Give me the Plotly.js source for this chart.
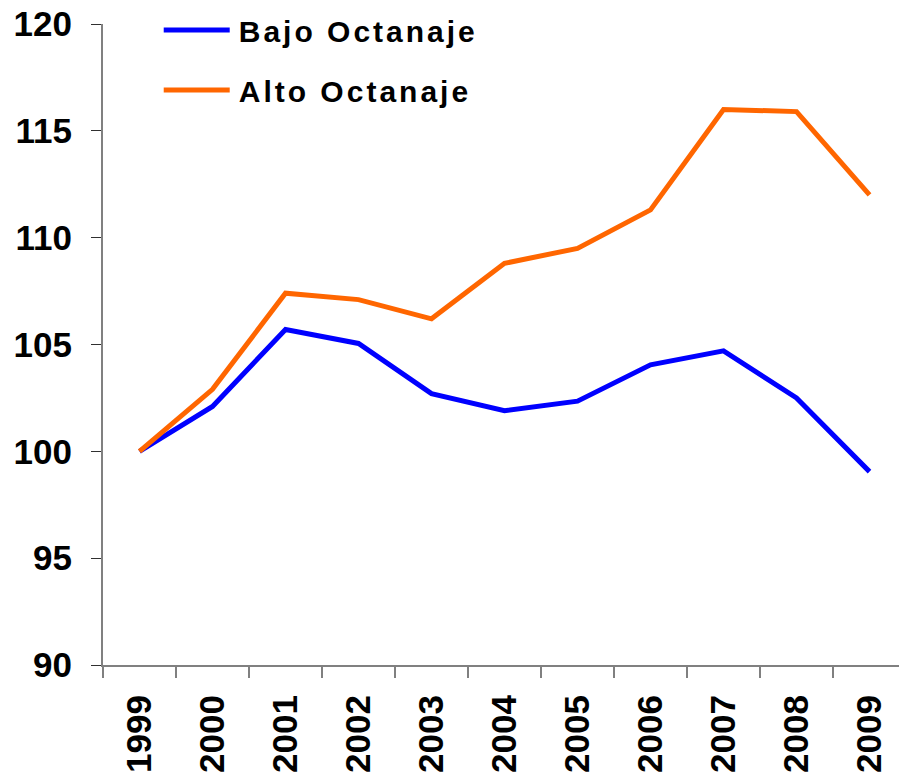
<!DOCTYPE html>
<html>
<head>
<meta charset="utf-8">
<script src="https://cdn.plot.ly/plotly-3.0.1.min.js"></script>
<style>
html,body{margin:0;padding:0;background:#fff;}
.legendtext{letter-spacing:3px;}
</style>
</head>
<body>
<div id="chart" style="width:899px;height:778px;"></div>
<script>
const years = ['1999','2000','2001','2002','2003','2004','2005','2006','2007','2008','2009'];
const bajoOctanaje = [100, 102.1, 105.7, 105.05, 102.7, 101.9, 102.35, 104.05, 104.7, 102.5, 99.05];
const altoOctanaje = [100, 102.9, 107.4, 107.1, 106.2, 108.8, 109.5, 111.3, 116.0, 115.9, 112.0];
const yTicks = [90, 95, 100, 105, 110, 115, 120];

const FONT = 'Liberation Sans, Arial, sans-serif';

const traces = [
  {x: years, y: bajoOctanaje, type: 'scatter', mode: 'lines', name: 'Bajo Octanaje',
   legendgroup: 'a', line: {color: '#0000FF', width: 5}},
  {x: years, y: altoOctanaje, type: 'scatter', mode: 'lines', name: 'Alto Octanaje',
   legendgroup: 'b', line: {color: '#FF6600', width: 5}}
];

const layout = {
  width: 899, height: 778,
  margin: {l: 103, r: 0, t: 24, b: 113, autoexpand: false},
  paper_bgcolor: '#fff', plot_bgcolor: '#fff',
  font: {family: FONT, color: '#000'},
  showlegend: true,
  legend: {
    x: 0.07, xanchor: 'left', xref: 'paper',
    y: 0.995, yanchor: 'top', yref: 'container',
    bgcolor: 'rgba(0,0,0,0)',
    font: {family: FONT, size: 30, color: '#000', weight: 'bold'},
    itemwidth: 70,
    tracegroupgap: 18,
    traceorder: 'grouped'
  },
  xaxis: {
    type: 'category',
    range: [-0.5, 10.404],
    showgrid: false, zeroline: false,
    showline: true, linecolor: '#808080', linewidth: 2,
    ticks: 'outside', ticklen: 11, tickcolor: '#808080', tickwidth: 1.5,
    tickson: 'boundaries',
    tickangle: -90,
    ticklabelstandoff: 14,
    tickfont: {family: FONT, size: 35, color: '#000', weight: 'bold'},
    automargin: false, fixedrange: true
  },
  yaxis: {
    range: [90, 120],
    tickvals: yTicks,
    ticktext: yTicks.map(String),
    showgrid: false, zeroline: false,
    showline: true, linecolor: '#808080', linewidth: 2,
    ticks: 'outside', ticklen: 10, tickcolor: '#303030', tickwidth: 1,
    ticklabelstandoff: 12,
    tickfont: {family: FONT, size: 35, color: '#000', weight: 'bold'},
    automargin: false, fixedrange: true
  }
};

Plotly.newPlot('chart', traces, layout, {displayModeBar: false, staticPlot: true}).then(function(gd){
  gd.querySelectorAll('.legendlines path').forEach(function(p){
    p.setAttribute('d', 'M5,0h66');
  });
});
</script>
</body>
</html>
